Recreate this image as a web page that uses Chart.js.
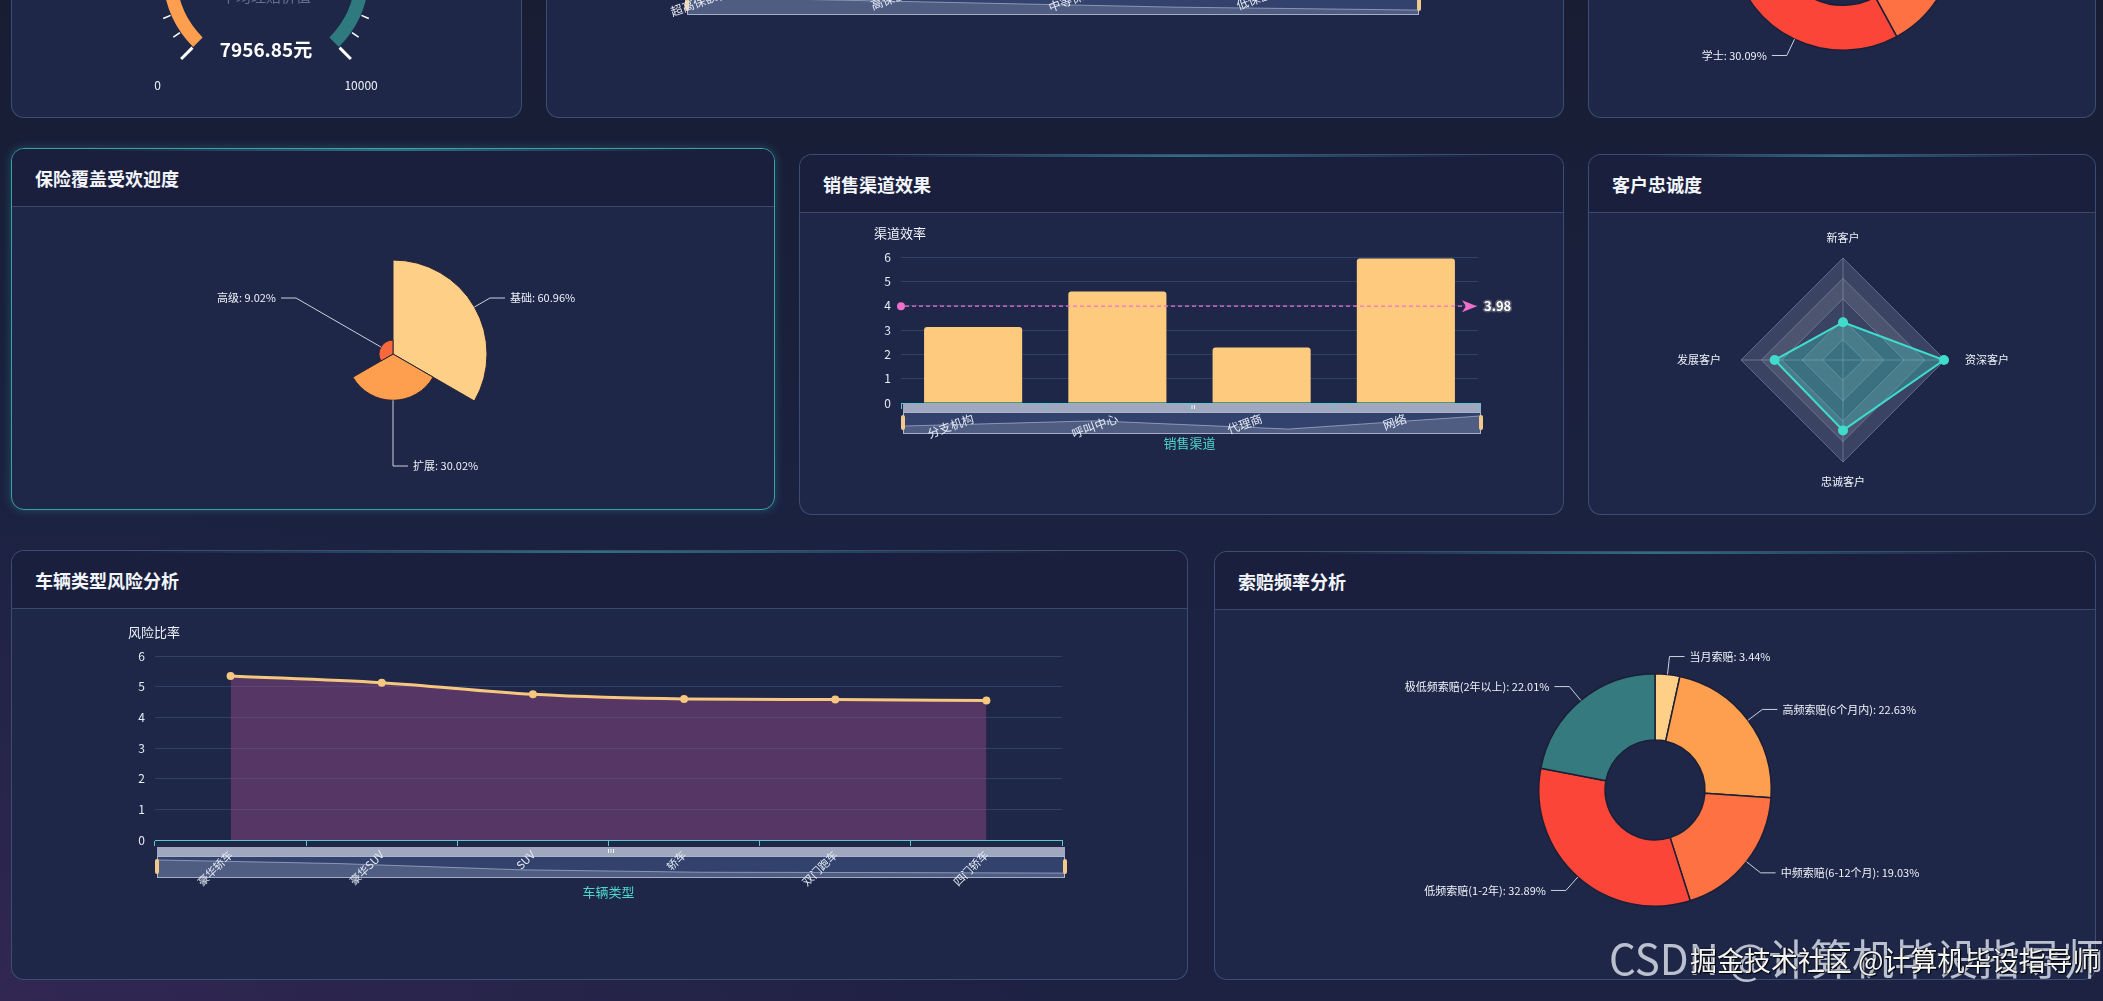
<!DOCTYPE html>
<html lang="zh-CN">
<head>
<meta charset="utf-8">
<title>车险数据分析大屏</title>
<script src="https://cdn.jsdelivr.net/npm/chart.js@4.4.1/dist/chart.umd.min.js"></script>
<style>
  html, body { margin: 0; padding: 0; }
  body {
    width: 2103px; height: 1001px; overflow: hidden; position: relative;
    font-family: "Noto Sans CJK SC", "Noto Sans", sans-serif;
    background:
      radial-gradient(ellipse at 0% 100%, rgba(70, 45, 100, 0.5), transparent 35%),
      linear-gradient(180deg, #181d34 0%, #1b2240 50%, #1d2142 100%);
  }
  .panel {
    position: absolute; box-sizing: border-box; overflow: hidden;
    border: 1px solid rgba(82, 112, 152, 0.55); border-radius: 13px;
    background: #1e2748;
  }
  .panel::before {
    content: ""; position: absolute; left: 10%; right: 10%; top: 0; height: 2px; z-index: 2;
    background: linear-gradient(90deg, transparent, rgba(70, 190, 200, 0.5), transparent);
  }
  .panel.active { border: 1.5px solid #37a2a8; box-shadow: 0 0 10px rgba(55, 162, 168, 0.35); }
  .hd {
    position: absolute; left: 0; right: 0; top: 0; height: 58px; box-sizing: border-box;
    background: #1a1f3d; border-bottom: 1px solid rgba(85, 115, 155, 0.5);
  }
  .hd span {
    position: absolute; left: 23px; top: 50%; transform: translateY(-50%);
    color: #f2f5fa; font-size: 18px; font-weight: bold;
  }
  .panel canvas { position: absolute; left: -1px; top: 57px; }
  .wm { position: absolute; white-space: nowrap; line-height: 1; z-index: 10; }
</style>
</head>
<body>

<div class="panel" style="left:11px;top:-244px;width:511px;height:362px;">
  <div class="hd"><span>平均理赔金额</span></div>
  <canvas id="gaugeChart" width="511" height="304" style="width:511px;height:304px"></canvas>
</div>
<div class="panel" style="left:546px;top:-244px;width:1018px;height:362px;">
  <div class="hd"><span>保额分布分析</span></div>
  <canvas id="amountChart" width="1018" height="304" style="width:1018px;height:304px"></canvas>
</div>
<div class="panel" style="left:1588px;top:-244px;width:508px;height:362px;">
  <div class="hd"><span>客户学历分布</span></div>
  <canvas id="degreeChart" width="508" height="304" style="width:508px;height:304px"></canvas>
</div>

<div class="panel active" style="left:11px;top:148px;width:764px;height:362px;">
  <div class="hd"><span>保险覆盖受欢迎度</span></div>
  <canvas id="coverageChart" width="764" height="304" style="width:764px;height:304px"></canvas>
</div>
<div class="panel" style="left:799px;top:154px;width:765px;height:361px;">
  <div class="hd"><span>销售渠道效果</span></div>
  <canvas id="channelChart" width="765" height="303" style="width:765px;height:303px"></canvas>
</div>
<div class="panel" style="left:1588px;top:154px;width:508px;height:361px;">
  <div class="hd"><span>客户忠诚度</span></div>
  <canvas id="loyaltyChart" width="508" height="303" style="width:508px;height:303px"></canvas>
</div>

<div class="panel" style="left:11px;top:550px;width:1177px;height:430px;">
  <div class="hd"><span>车辆类型风险分析</span></div>
  <canvas id="vehicleChart" width="1177" height="372" style="width:1177px;height:372px"></canvas>
</div>
<div class="panel" style="left:1214px;top:551px;width:882px;height:429px;">
  <div class="hd"><span>索赔频率分析</span></div>
  <canvas id="claimChart" width="882" height="371" style="width:882px;height:371px"></canvas>
</div>

<div class="wm" style="left:1609px;top:936px;font-size:42px;color:rgba(215,220,230,0.85);">CSDN @计算机毕设指导师</div>
<div class="wm" style="left:1690px;top:946px;font-size:27px;color:#f4f4f4;text-shadow:0 0 2px #000,1px 1px 1px #000;">掘金技术社区 @计算机毕设指导师</div>

<script>
// ---- data ----
const gaugeValue = 7956.85;
const gaugeMax = 10000;
const gaugeBandEnds = [3000, 7000, 10000];

const amountLevels = ['超高保额(100万以上)', '高保额(50-100万)', '中等保额(20-50万)', '低保额(20万以下)'];
const amountValues = [5.6, 4.9, 4.2, 3.8];

const degreeLabels = ['博士', '硕士', '大专', '学士', '高中及以下'];
const degreeShares = [4.12, 17.35, 20.59, 30.09, 27.85];

const coverageLabels = ['基础', '扩展', '高级'];
const coverageShares = [60.96, 30.02, 9.02];

const channelLabels = ['分支机构', '呼叫中心', '代理商', '网络'];
const channelEfficiency = [3.12, 4.58, 2.28, 5.94];

const loyaltyLabels = ['新客户', '资深客户', '忠诚客户', '发展客户'];
const loyaltyValues = [37, 99, 69, 67];

const vehicleTypes = ['豪华轿车', '豪华SUV', 'SUV', '轿车', '双门跑车', '四门轿车'];
const vehicleRisk = [5.35, 5.13, 4.75, 4.6, 4.58, 4.55];

const claimLabels = ['当月索赔', '高频索赔(6个月内)', '中频索赔(6-12个月)', '低频索赔(1-2年)', '极低频索赔(2年以上)'];
const claimShares = [3.44, 22.63, 19.03, 32.89, 22.01];

const pieColors = ['#fecf87', '#fd9f4e', '#fd7143', '#fb4538', '#347a7f'];
const FONT = '"Noto Sans CJK SC", "Noto Sans", sans-serif';

Chart.defaults.font.family = FONT;
Chart.defaults.color = '#e6ebf5';
Chart.defaults.animation = false;
Chart.defaults.responsive = false;
Chart.defaults.events = [];
Chart.defaults.plugins.legend.display = false;
Chart.defaults.plugins.tooltip.enabled = false;

// echarts-like dataZoom slider under the x axis
const dzSlider = {
  id: 'dzSlider',
  beforeDraw(chart, args, o) {
    const { ctx, chartArea: a } = chart;
    const x0 = a.left + 2, x1 = a.right + 3;
    const bandTop = a.bottom + (o.gap || 0), bandH = 9;
    const top = bandTop + bandH, h = 21, bottom = top + h;
    ctx.save();
    ctx.fillStyle = 'rgba(210,219,238,0.72)';
    ctx.fillRect(x0, bandTop, x1 - x0, bandH);
    ctx.fillStyle = 'rgba(255,255,255,0.85)';
    const mid = (x0 + x1) / 2;
    for (let k = -1; k <= 1; k++) ctx.fillRect(mid + k * 2.5 - 0.5, bandTop + 2, 1, 4);
    ctx.fillStyle = 'rgba(135,175,255,0.2)';
    ctx.fillRect(x0, top, x1 - x0, h);
    // data shadow
    const vals = chart.data.datasets[0].data;
    let mn = Math.min(...vals), mx = Math.max(...vals);
    const off = (mx - mn) * 0.3; mn -= off; mx += off;
    const pts = vals.map((v, i) => [x0 + i * (x1 - x0) / (vals.length - 1), bottom - (v - mn) / (mx - mn) * h]);
    ctx.beginPath();
    ctx.moveTo(x0, bottom);
    pts.forEach(p => ctx.lineTo(p[0], p[1]));
    ctx.lineTo(x1, bottom);
    ctx.closePath();
    ctx.fillStyle = 'rgba(210,219,238,0.18)';
    ctx.fill();
    ctx.beginPath();
    pts.forEach((p, i) => i ? ctx.lineTo(p[0], p[1]) : ctx.moveTo(p[0], p[1]));
    ctx.strokeStyle = 'rgba(210,219,238,0.5)';
    ctx.lineWidth = 1;
    ctx.stroke();
    ctx.strokeStyle = 'rgba(210,219,238,0.75)';
    ctx.strokeRect(x0 + 0.5, top + 0.5, x1 - x0 - 1, h);
    ctx.fillStyle = '#f3c98b';
    [x0, x1].forEach(x => {
      ctx.beginPath();
      ctx.roundRect(x - 2, top + 3, 4, h - 6, 2);
      ctx.fill();
    });
    ctx.restore();
  }
};

const axisNames = {
  id: 'axisNames',
  afterDraw(chart, args, o) {
    const { ctx, chartArea: a } = chart;
    ctx.save();
    ctx.textAlign = 'center';
    ctx.textBaseline = 'middle';
    ctx.font = '13px ' + FONT;
    ctx.fillStyle = '#eef2f8';
    ctx.fillText(o.y, a.left - 1, a.top - 24);
    if (o.x) {
      ctx.fillStyle = '#4fd6cc';
      ctx.fillText(o.x, (a.left + a.right) / 2, a.bottom + o.xGap);
    }
    ctx.restore();
  }
};

// average mark line
const avgLine = {
  id: 'avgLine',
  afterDatasetsDraw(chart) {
    const { ctx, chartArea: a } = chart;
    const vals = chart.data.datasets[0].data;
    const avg = vals.reduce((s, v) => s + v, 0) / vals.length;
    const y = chart.scales.y.getPixelForValue(avg);
    const c = '#ef70c9';
    ctx.save();
    ctx.strokeStyle = c;
    ctx.lineWidth = 1.3;
    ctx.setLineDash([4, 3]);
    ctx.beginPath();
    ctx.moveTo(a.left + 4, y);
    ctx.lineTo(a.right - 12, y);
    ctx.stroke();
    ctx.setLineDash([]);
    ctx.fillStyle = c;
    ctx.beginPath();
    ctx.arc(a.left, y, 4, 0, Math.PI * 2);
    ctx.fill();
    ctx.beginPath();
    ctx.moveTo(a.right - 1, y);
    ctx.lineTo(a.right - 16, y - 6);
    ctx.lineTo(a.right - 12, y);
    ctx.lineTo(a.right - 16, y + 6);
    ctx.closePath();
    ctx.fill();
    ctx.font = 'bold 13px ' + FONT;
    ctx.textAlign = 'left';
    ctx.textBaseline = 'middle';
    ctx.lineWidth = 3;
    ctx.strokeStyle = 'rgba(95,95,115,0.9)';
    ctx.strokeText(avg.toFixed(2), a.right + 6, y);
    ctx.fillStyle = '#ffffff';
    ctx.fillText(avg.toFixed(2), a.right + 6, y);
    ctx.restore();
  }
};

// pie labels with leader lines
const pieLabels = {
  id: 'pieLabels',
  afterDatasetsDraw(chart, args, o) {
    const { ctx } = chart;
    const vals = chart.data.datasets[0].data;
    const total = vals.reduce((s, v) => s + v, 0);
    const maxR = chart.scales.r ? chart.scales.r.drawingArea : null;
    ctx.save();
    ctx.font = '11px ' + FONT;
    ctx.textBaseline = 'middle';
    chart.getDatasetMeta(0).data.forEach((arc, i) => {
      const p = arc.getProps(['x', 'y', 'startAngle', 'endAngle', 'outerRadius']);
      const m = (p.startAngle + p.endAngle) / 2;
      const cx = Math.cos(m), cy = Math.sin(m);
      const R = maxR || p.outerRadius;
      const x1 = p.x + cx * p.outerRadius, y1 = p.y + cy * p.outerRadius;
      const x2 = p.x + cx * (R + o.gap), y2 = p.y + cy * (R + o.gap);
      const side = cx >= -1e-6 ? 1 : -1;
      const x3 = x2 + side * o.len;
      ctx.beginPath();
      ctx.moveTo(x1, y1);
      ctx.lineTo(x2, y2);
      ctx.lineTo(x3, y2);
      ctx.strokeStyle = 'rgba(235,240,248,0.85)';
      ctx.lineWidth = 1;
      ctx.stroke();
      ctx.fillStyle = '#eef2f8';
      ctx.textAlign = side > 0 ? 'left' : 'right';
      ctx.fillText(chart.data.labels[i] + ': ' + (vals[i] / total * 100).toFixed(2) + '%', x3 + side * 5, y2);
    });
    ctx.restore();
  }
};

// radar split areas and labels
const radarDeco = {
  id: 'radarDeco',
  beforeDraw(chart) {
    const s = chart.scales.r, ctx = chart.ctx, n = chart.data.labels.length;
    const steps = s.ticks.map(t => t.value).filter(v => v > 0);
    const ring = v => {
      for (let i = 0; i < n; i++) {
        const p = s.getPointPositionForValue(i, v);
        i ? ctx.lineTo(p.x, p.y) : ctx.moveTo(p.x, p.y);
      }
      ctx.closePath();
    };
    ctx.save();
    steps.forEach((v, k) => {
      ctx.beginPath();
      ring(v);
      if (k > 0) ring(steps[k - 1]);
      ctx.fillStyle = k % 2 ? 'rgba(225,228,240,0.24)' : 'rgba(200,205,225,0.17)';
      ctx.fill('evenodd');
    });
    ctx.restore();
  },
  afterDraw(chart) {
    const s = chart.scales.r, ctx = chart.ctx;
    ctx.save();
    ctx.font = '11px ' + FONT;
    ctx.fillStyle = '#eef2f8';
    ctx.textBaseline = 'middle';
    chart.data.labels.forEach((lab, i) => {
      const p = s.getPointPosition(i, s.drawingArea + 20);
      const dx = p.x - s.xCenter;
      ctx.textAlign = Math.abs(dx) < 2 ? 'center' : (dx > 0 ? 'left' : 'right');
      ctx.fillText(lab, p.x, p.y);
    });
    ctx.restore();
  }
};

// gauge ticks, labels and value
const gaugeDeco = {
  id: 'gaugeDeco',
  afterDatasetsDraw(chart) {
    const ctx = chart.ctx;
    const arc = chart.getDatasetMeta(0).data[0];
    const { x, y, outerRadius: R } = arc.getProps(['x', 'y', 'outerRadius']);
    const start = 0.75 * Math.PI, sweep = 1.5 * Math.PI, n = 25;
    ctx.save();
    ctx.strokeStyle = '#ffffff';
    ctx.lineCap = 'butt';
    for (let i = 0; i <= n; i++) {
      const a = start + sweep * i / n;
      const major = i % 5 === 0;
      const r0 = R + 1, r1 = major ? R + 17 : R + 9;
      ctx.lineWidth = major ? 3 : 1.6;
      ctx.beginPath();
      ctx.moveTo(x + Math.cos(a) * r0, y + Math.sin(a) * r0);
      ctx.lineTo(x + Math.cos(a) * r1, y + Math.sin(a) * r1);
      ctx.stroke();
    }
    ctx.fillStyle = '#eef2f8';
    ctx.font = '12px ' + FONT;
    ctx.textBaseline = 'middle';
    for (let i = 0; i <= 5; i++) {
      const a = start + sweep * i / 5;
      const c = Math.cos(a);
      ctx.textAlign = c < -0.3 ? 'left' : (c > 0.3 ? 'right' : 'center');
      ctx.fillText(String(gaugeMax * i / 5), x + c * (R + 55), y + Math.sin(a) * (R + 55));
    }
    ctx.textAlign = 'center';
    ctx.fillStyle = 'rgba(150,160,185,0.6)';
    ctx.font = '15px ' + FONT;
    ctx.fillText('平均理赔价值', x, y + 22);
    ctx.fillStyle = '#ffffff';
    ctx.font = 'bold 19px ' + FONT;
    ctx.fillText(gaugeValue.toFixed(2) + '元', x, y + 76);
    ctx.restore();
  }
};

const yAxis = (width, extra) => Object.assign({
  min: 0, max: 6,
  ticks: { stepSize: 1, padding: 10, font: { size: 12 }, color: '#e6ebf5' },
  grid: { drawTicks: false, color: 'rgba(100,130,180,0.28)' },
  border: { display: false },
  afterFit: s => { s.width = width; }
}, extra || {});

const xAxis = (height, rotation, size) => ({
  offset: true,
  grid: { offset: true, drawOnChartArea: false, tickLength: 6, color: '#5cc9d0' },
  border: { color: '#5cc9d0' },
  ticks: { autoSkip: false, minRotation: rotation, maxRotation: rotation, font: { size: size }, color: '#e6ebf5', padding: 2 },
  afterFit: s => { s.height = height; }
});

// ---- gauge ----
new Chart(document.getElementById('gaugeChart'), {
  type: 'doughnut',
  data: {
    labels: ['低', '中', '高'],
    datasets: [{
      data: gaugeBandEnds.map((v, i) => v - (i ? gaugeBandEnds[i - 1] : 0)),
      backgroundColor: ['#fd9f4e', '#fd7a45', '#2f7a7e'],
      borderWidth: 0
    }]
  },
  options: {
    rotation: -135, circumference: 270, cutout: '87%',
    layout: { padding: { left: 152, right: 153, top: 42, bottom: 56 } }
  },
  plugins: [gaugeDeco]
});

// ---- amount bars (top, mostly scrolled out) ----
new Chart(document.getElementById('amountChart'), {
  type: 'bar',
  data: { labels: amountLevels, datasets: [{ data: amountValues, backgroundColor: '#fecb7e', borderRadius: 3, categoryPercentage: 1, barPercentage: 0.6 }] },
  options: {
    layout: { padding: { top: 45, right: 148, left: 0, bottom: 0 } },
    scales: { x: xAxis(159, 20, 12), y: yAxis(139) },
    plugins: { dzSlider: { gap: 25 }, axisNames: { x: '', y: '理赔比率', xGap: 40 } }
  },
  plugins: [dzSlider, axisNames]
});

// ---- degree donut (top right) ----
new Chart(document.getElementById('degreeChart'), {
  type: 'doughnut',
  data: { labels: degreeLabels, datasets: [{ data: degreeShares, backgroundColor: pieColors, borderColor: '#1c1f36', borderWidth: 1.5 }] },
  options: {
    cutout: '60%',
    layout: { padding: { left: 142, right: 140, top: 11, bottom: 67 } },
    plugins: { pieLabels: { gap: 18, len: 15 } }
  },
  plugins: [pieLabels]
});

// ---- coverage rose ----
new Chart(document.getElementById('coverageChart'), {
  type: 'polarArea',
  data: { labels: coverageLabels, datasets: [{ data: coverageShares, backgroundColor: ['#fecf87', '#fd9f4e', '#f7693c'], borderColor: '#2b2437', borderWidth: 1 }] },
  options: {
    layout: { padding: { top: 54, bottom: 62 } },
    scales: { r: { display: false, min: 0, max: Math.max(...coverageShares) } },
    plugins: { pieLabels: { gap: 18, len: 15 } }
  },
  plugins: [pieLabels]
});

// ---- sales channel bars ----
new Chart(document.getElementById('channelChart'), {
  type: 'bar',
  data: { labels: channelLabels, datasets: [{ data: channelEfficiency, backgroundColor: '#fecb7e', borderRadius: 3, categoryPercentage: 1, barPercentage: 0.68 }] },
  options: {
    layout: { padding: { top: 45, right: 86, left: 0, bottom: 0 } },
    scales: { x: xAxis(112, 20, 12), y: yAxis(102) },
    plugins: { dzSlider: { gap: 0 }, axisNames: { x: '销售渠道', y: '渠道效率', xGap: 40 } }
  },
  plugins: [dzSlider, axisNames, avgLine]
});

// ---- loyalty radar ----
new Chart(document.getElementById('loyaltyChart'), {
  type: 'radar',
  data: {
    labels: loyaltyLabels,
    datasets: [{
      data: loyaltyValues, borderColor: '#3fdccb', backgroundColor: 'rgba(63,220,203,0.3)', borderWidth: 2,
      pointRadius: 5, pointBackgroundColor: '#3fdccb', pointBorderWidth: 0
    }]
  },
  options: {
    layout: { padding: { left: 153, right: 151, top: 46, bottom: 53 } },
    scales: {
      r: {
        min: 0, max: 100,
        ticks: { display: false, stepSize: 20 },
        pointLabels: { display: false },
        grid: { color: 'rgba(190,200,225,0.35)' },
        angleLines: { color: 'rgba(190,200,225,0.35)' }
      }
    }
  },
  plugins: [radarDeco]
});

// ---- vehicle risk line ----
new Chart(document.getElementById('vehicleChart'), {
  type: 'line',
  data: {
    labels: vehicleTypes,
    datasets: [{
      data: vehicleRisk, borderColor: '#f6c77f', borderWidth: 3, cubicInterpolationMode: 'monotone',
      fill: 'origin', backgroundColor: 'rgba(140,70,130,0.5)',
      pointRadius: 4, pointBackgroundColor: '#f6c77f', pointBorderWidth: 0
    }]
  },
  options: {
    layout: { padding: { top: 48, right: 126, left: 0, bottom: 0 } },
    scales: { x: xAxis(140, 45, 11), y: yAxis(144) },
    plugins: { dzSlider: { gap: 7 }, axisNames: { x: '车辆类型', y: '风险比率', xGap: 52 } }
  },
  plugins: [dzSlider, axisNames]
});

// ---- claim frequency donut ----
new Chart(document.getElementById('claimChart'), {
  type: 'doughnut',
  data: { labels: claimLabels, datasets: [{ data: claimShares, backgroundColor: pieColors, borderColor: '#1c1f36', borderWidth: 1.5 }] },
  options: {
    cutout: '43%',
    layout: { padding: { left: 324, right: 324, top: 64, bottom: 73 } },
    plugins: { pieLabels: { gap: 18, len: 15 } }
  },
  plugins: [pieLabels]
});
</script>
</body>
</html>
